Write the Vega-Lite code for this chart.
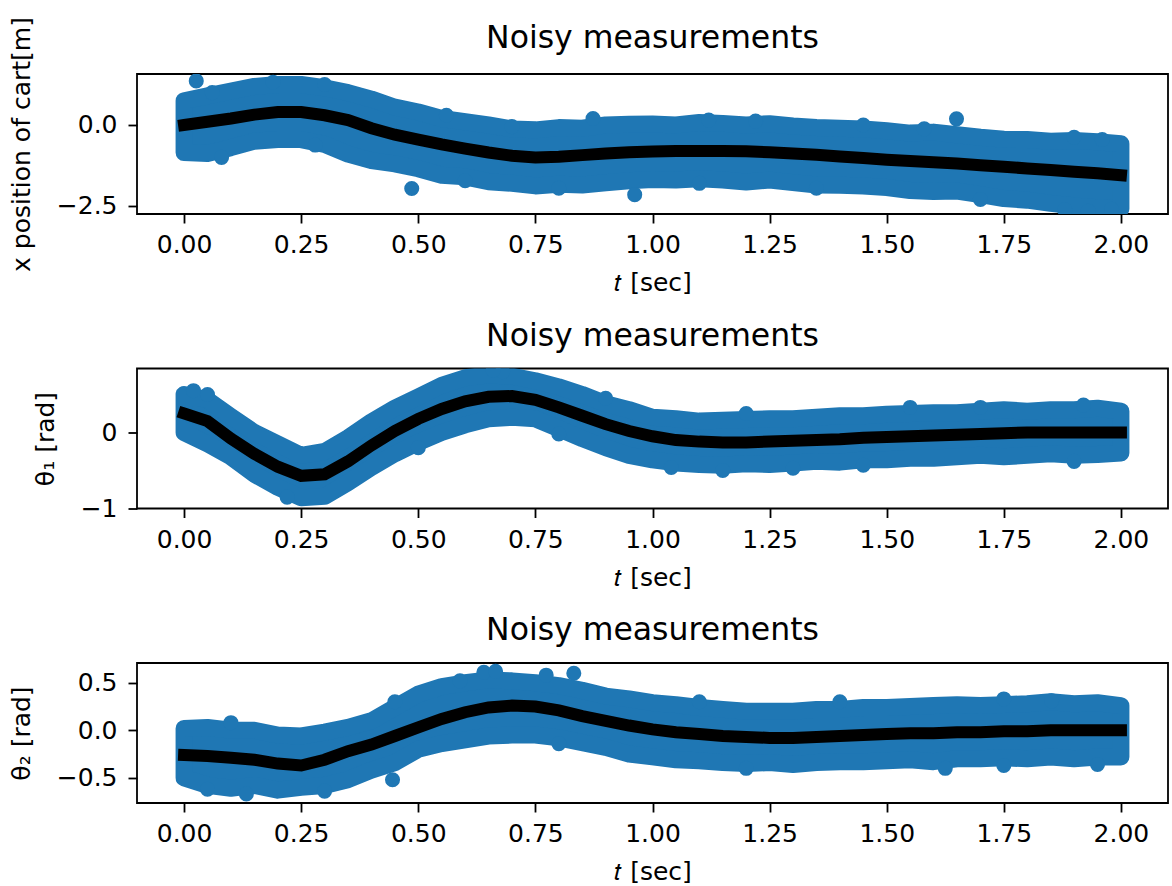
{
  "$schema": "https://vega.github.io/schema/vega-lite/v6.json",
  "padding": {"left": 8, "top": 15, "right": 0, "bottom": 0},
  "background": "white",
  "config": {
    "font": "DejaVu Sans",
    "view": {"stroke": "black", "strokeWidth": 1.8},
    "axis": {
      "grid": false, "domain": false, "tickColor": "black", "tickWidth": 1.8, "tickSize": 9,
      "labelFont": "DejaVu Sans", "labelFontSize": 25, "labelColor": "black",
      "titleFont": "DejaVu Sans", "titleFontSize": 25, "titleFontWeight": "normal", "titleColor": "black"
    },
    "title": {"font": "DejaVu Sans", "fontSize": 31.5, "fontWeight": "normal", "color": "black", "anchor": "middle", "baseline": "alphabetic", "offset": 16.5, "frame": "group"}
  },
  "datasets": {
    "p1": [
      {"t":0.00,"c":0.0,"hi":0.75,"lo":-0.85},{"t":0.05,"c":0.1,"hi":0.9,"lo":-0.88},{"t":0.10,"c":0.2,"hi":1.05,"lo":-0.7},
      {"t":0.15,"c":0.32,"hi":1.19,"lo":-0.5},{"t":0.20,"c":0.4,"hi":1.25,"lo":-0.45},{"t":0.25,"c":0.4,"hi":1.25,"lo":-0.45},
      {"t":0.30,"c":0.3,"hi":1.15,"lo":-0.6},{"t":0.35,"c":0.15,"hi":1.0,"lo":-0.9},{"t":0.40,"c":-0.1,"hi":0.8,"lo":-1.1},
      {"t":0.45,"c":-0.3,"hi":0.55,"lo":-1.2},{"t":0.50,"c":-0.45,"hi":0.4,"lo":-1.35},{"t":0.55,"c":-0.6,"hi":0.2,"lo":-1.55},
      {"t":0.60,"c":-0.73,"hi":0.1,"lo":-1.6},{"t":0.65,"c":-0.85,"hi":0.0,"lo":-1.75},{"t":0.70,"c":-0.95,"hi":-0.12,"lo":-1.8},
      {"t":0.75,"c":-1.0,"hi":-0.15,"lo":-1.88},{"t":0.80,"c":-0.98,"hi":-0.08,"lo":-1.83},{"t":0.85,"c":-0.93,"hi":-0.1,"lo":-1.85},
      {"t":0.90,"c":-0.88,"hi":0.0,"lo":-1.78},{"t":0.95,"c":-0.84,"hi":0.02,"lo":-1.72},{"t":1.00,"c":-0.82,"hi":0.03,"lo":-1.68},
      {"t":1.05,"c":-0.8,"hi":0.0,"lo":-1.7},{"t":1.10,"c":-0.8,"hi":0.08,"lo":-1.66},{"t":1.15,"c":-0.8,"hi":0.05,"lo":-1.7},
      {"t":1.20,"c":-0.81,"hi":0.0,"lo":-1.76},{"t":1.25,"c":-0.84,"hi":0.04,"lo":-1.7},{"t":1.30,"c":-0.88,"hi":-0.03,"lo":-1.78},
      {"t":1.35,"c":-0.92,"hi":-0.08,"lo":-1.85},{"t":1.40,"c":-0.97,"hi":-0.1,"lo":-1.86},{"t":1.45,"c":-1.02,"hi":-0.12,"lo":-1.88},
      {"t":1.50,"c":-1.07,"hi":-0.18,"lo":-1.93},{"t":1.55,"c":-1.11,"hi":-0.25,"lo":-2.02},{"t":1.60,"c":-1.15,"hi":-0.22,"lo":-2.05},
      {"t":1.65,"c":-1.19,"hi":-0.3,"lo":-2.04},{"t":1.70,"c":-1.24,"hi":-0.38,"lo":-2.15},{"t":1.75,"c":-1.29,"hi":-0.44,"lo":-2.27},
      {"t":1.80,"c":-1.34,"hi":-0.45,"lo":-2.32},{"t":1.85,"c":-1.39,"hi":-0.5,"lo":-2.42},{"t":1.90,"c":-1.44,"hi":-0.48,"lo":-2.5},
      {"t":1.95,"c":-1.49,"hi":-0.52,"lo":-2.55},{"t":2.00,"c":-1.55,"hi":-0.58,"lo":-2.58}
    ],
    "o1": [
      {"t":0.026,"v":1.36},{"t":0.486,"v":-1.96},{"t":0.873,"v":0.2},{"t":0.962,"v":-2.15},{"t":1.649,"v":0.19},
      {"t":1.88,"v":-2.62},{"t":1.93,"v":-2.66},{"t":1.98,"v":-2.6},
      {"t":0.06,"v":1.0},{"t":0.19,"v":1.32},{"t":0.3,"v":1.25},{"t":0.56,"v":0.3},{"t":0.7,"v":-0.05},{"t":1.12,"v":0.15},
      {"t":1.22,"v":0.12},{"t":1.45,"v":0.0},{"t":1.58,"v":-0.12},{"t":1.9,"v":-0.38},{"t":1.96,"v":-0.45},
      {"t":0.08,"v":-1.0},{"t":0.28,"v":-0.62},{"t":0.6,"v":-1.72},{"t":0.8,"v":-1.95},{"t":1.1,"v":-1.8},{"t":1.35,"v":-1.95},{"t":1.7,"v":-2.3}
    ],
    "p2": [
      {"t":0.00,"c":0.25,"hi":0.5,"lo":0.0},{"t":0.05,"c":0.15,"hi":0.43,"lo":-0.15},{"t":0.10,"c":-0.08,"hi":0.21,"lo":-0.32},
      {"t":0.15,"c":-0.28,"hi":0.0,"lo":-0.55},{"t":0.20,"c":-0.45,"hi":-0.15,"lo":-0.72},{"t":0.25,"c":-0.57,"hi":-0.3,"lo":-0.86},
      {"t":0.30,"c":-0.55,"hi":-0.25,"lo":-0.84},{"t":0.35,"c":-0.38,"hi":-0.07,"lo":-0.66},{"t":0.40,"c":-0.17,"hi":0.14,"lo":-0.46},
      {"t":0.45,"c":0.02,"hi":0.32,"lo":-0.28},{"t":0.50,"c":0.18,"hi":0.47,"lo":-0.13},{"t":0.55,"c":0.31,"hi":0.62,"lo":0.0},
      {"t":0.60,"c":0.41,"hi":0.72,"lo":0.1},{"t":0.65,"c":0.47,"hi":0.76,"lo":0.18},{"t":0.70,"c":0.48,"hi":0.74,"lo":0.2},
      {"t":0.75,"c":0.43,"hi":0.68,"lo":0.18},{"t":0.80,"c":0.33,"hi":0.6,"lo":0.05},{"t":0.85,"c":0.22,"hi":0.5,"lo":-0.08},
      {"t":0.90,"c":0.11,"hi":0.38,"lo":-0.2},{"t":0.95,"c":0.02,"hi":0.3,"lo":-0.3},{"t":1.00,"c":-0.05,"hi":0.2,"lo":-0.36},
      {"t":1.05,"c":-0.1,"hi":0.18,"lo":-0.4},{"t":1.10,"c":-0.12,"hi":0.15,"lo":-0.42},{"t":1.15,"c":-0.13,"hi":0.16,"lo":-0.43},
      {"t":1.20,"c":-0.13,"hi":0.17,"lo":-0.41},{"t":1.25,"c":-0.12,"hi":0.18,"lo":-0.42},{"t":1.30,"c":-0.11,"hi":0.18,"lo":-0.4},
      {"t":1.35,"c":-0.1,"hi":0.2,"lo":-0.38},{"t":1.40,"c":-0.09,"hi":0.22,"lo":-0.39},{"t":1.45,"c":-0.07,"hi":0.22,"lo":-0.36},
      {"t":1.50,"c":-0.06,"hi":0.24,"lo":-0.36},{"t":1.55,"c":-0.05,"hi":0.25,"lo":-0.34},{"t":1.60,"c":-0.04,"hi":0.26,"lo":-0.34},
      {"t":1.65,"c":-0.03,"hi":0.26,"lo":-0.32},{"t":1.70,"c":-0.02,"hi":0.28,"lo":-0.3},{"t":1.75,"c":-0.01,"hi":0.3,"lo":-0.32},
      {"t":1.80,"c":0.0,"hi":0.28,"lo":-0.3},{"t":1.85,"c":0.0,"hi":0.3,"lo":-0.28},{"t":1.90,"c":0.0,"hi":0.3,"lo":-0.3},
      {"t":1.95,"c":0.0,"hi":0.32,"lo":-0.29},{"t":2.00,"c":0.0,"hi":0.28,"lo":-0.27}
    ],
    "o2": [
      {"t":0.02,"v":0.55},{"t":1.04,"v":-0.46},{"t":1.45,"v":-0.43},{"t":1.55,"v":0.33},{"t":0.68,"v":0.8},
      {"t":0.05,"v":0.5},{"t":0.66,"v":0.82},{"t":0.9,"v":0.45},{"t":1.2,"v":0.25},{"t":1.7,"v":0.33},{"t":1.92,"v":0.36},
      {"t":0.22,"v":-0.85},{"t":0.5,"v":-0.2},{"t":0.8,"v":-0.02},{"t":1.15,"v":-0.5},{"t":1.3,"v":-0.47},{"t":1.9,"v":-0.38}
    ],
    "p3": [
      {"t":0.00,"c":-0.26,"hi":0.02,"lo":-0.5},{"t":0.05,"c":-0.27,"hi":0.03,"lo":-0.58},{"t":0.10,"c":-0.29,"hi":0.0,"lo":-0.61},
      {"t":0.15,"c":-0.31,"hi":0.0,"lo":-0.58},{"t":0.20,"c":-0.35,"hi":-0.05,"lo":-0.63},{"t":0.25,"c":-0.37,"hi":-0.06,"lo":-0.6},
      {"t":0.30,"c":-0.31,"hi":-0.02,"lo":-0.58},{"t":0.35,"c":-0.22,"hi":0.03,"lo":-0.52},{"t":0.40,"c":-0.15,"hi":0.1,"lo":-0.42},
      {"t":0.45,"c":-0.06,"hi":0.24,"lo":-0.34},{"t":0.50,"c":0.03,"hi":0.38,"lo":-0.2},{"t":0.55,"c":0.12,"hi":0.46,"lo":-0.14},
      {"t":0.60,"c":0.19,"hi":0.5,"lo":-0.1},{"t":0.65,"c":0.24,"hi":0.53,"lo":-0.06},{"t":0.70,"c":0.26,"hi":0.52,"lo":-0.05},
      {"t":0.75,"c":0.25,"hi":0.5,"lo":-0.05},{"t":0.80,"c":0.21,"hi":0.47,"lo":-0.08},{"t":0.85,"c":0.15,"hi":0.42,"lo":-0.13},
      {"t":0.90,"c":0.1,"hi":0.36,"lo":-0.18},{"t":0.95,"c":0.05,"hi":0.33,"lo":-0.25},{"t":1.00,"c":0.01,"hi":0.29,"lo":-0.28},
      {"t":1.05,"c":-0.02,"hi":0.27,"lo":-0.31},{"t":1.10,"c":-0.04,"hi":0.24,"lo":-0.32},{"t":1.15,"c":-0.06,"hi":0.22,"lo":-0.34},
      {"t":1.20,"c":-0.07,"hi":0.2,"lo":-0.35},{"t":1.25,"c":-0.08,"hi":0.2,"lo":-0.34},{"t":1.30,"c":-0.08,"hi":0.2,"lo":-0.36},
      {"t":1.35,"c":-0.07,"hi":0.22,"lo":-0.34},{"t":1.40,"c":-0.06,"hi":0.22,"lo":-0.33},{"t":1.45,"c":-0.05,"hi":0.24,"lo":-0.33},
      {"t":1.50,"c":-0.04,"hi":0.24,"lo":-0.32},{"t":1.55,"c":-0.03,"hi":0.25,"lo":-0.31},{"t":1.60,"c":-0.03,"hi":0.26,"lo":-0.33},
      {"t":1.65,"c":-0.02,"hi":0.27,"lo":-0.3},{"t":1.70,"c":-0.02,"hi":0.26,"lo":-0.3},{"t":1.75,"c":-0.01,"hi":0.27,"lo":-0.29},
      {"t":1.80,"c":-0.01,"hi":0.28,"lo":-0.3},{"t":1.85,"c":0.0,"hi":0.3,"lo":-0.28},{"t":1.90,"c":0.0,"hi":0.28,"lo":-0.3},
      {"t":1.95,"c":0.0,"hi":0.29,"lo":-0.28},{"t":2.00,"c":0.0,"hi":0.26,"lo":-0.28}
    ],
    "o3": [
      {"t":0.133,"v":-0.67},{"t":0.445,"v":-0.52},{"t":0.589,"v":0.52},{"t":0.64,"v":0.61},{"t":0.665,"v":0.62},
      {"t":0.773,"v":0.58},{"t":0.832,"v":0.6},{"t":1.625,"v":-0.4},{"t":1.852,"v":0.31},
      {"t":0.1,"v":0.08},{"t":0.45,"v":0.3},{"t":1.1,"v":0.3},{"t":1.4,"v":0.3},{"t":1.75,"v":0.33},
      {"t":0.05,"v":-0.62},{"t":0.3,"v":-0.64},{"t":0.8,"v":-0.14},{"t":1.2,"v":-0.4},{"t":1.75,"v":-0.37},{"t":1.95,"v":-0.36}
    ]
  },
  "vconcat": [
    {
      "width": 1031, "height": 140,
      "title": {"text": "Noisy measurements", "dy": 54},
      "layer": [
        {"data": {"name": "p1"}, "mark": {"type": "area", "fill": "#1f77b4", "stroke": "#1f77b4", "strokeWidth": 17, "strokeJoin": "round", "clip": true},
         "encoding": {
           "x": {"field": "t", "type": "quantitative", "scale": {"domain": [-0.1005, 2.1005], "nice": false, "zero": false},
                 "axis": {"values": [0,0.25,0.5,0.75,1,1.25,1.5,1.75,2], "format": ".2f", "title": "𝑡 [sec]", "labelPadding": 9.5, "titlePadding": 13}},
           "y": {"field": "lo", "type": "quantitative", "scale": {"domain": [-2.747, 1.574], "nice": false, "zero": false},
                 "axis": {"values": [-2.5, 0], "format": ".1f", "title": "x position of cart[m]", "labelPadding": 11, "titlePadding": 22}},
           "y2": {"field": "hi"}
         }},
        {"data": {"name": "o1"}, "mark": {"type": "point", "shape": "circle", "filled": true, "size": 227, "color": "#1f77b4", "opacity": 1, "clip": true},
         "encoding": {"x": {"field": "t", "type": "quantitative"}, "y": {"field": "v", "type": "quantitative"}}},
        {"data": {"name": "p1"}, "mark": {"type": "line", "color": "black", "strokeWidth": 12, "strokeCap": "square", "clip": true},
         "encoding": {"x": {"field": "t", "type": "quantitative"}, "y": {"field": "c", "type": "quantitative"}}}
      ]
    },
    {
      "width": 1031, "height": 140,
      "title": "Noisy measurements",
      "layer": [
        {"data": {"name": "p2"}, "mark": {"type": "area", "fill": "#1f77b4", "stroke": "#1f77b4", "strokeWidth": 17, "strokeJoin": "round", "clip": true},
         "encoding": {
           "x": {"field": "t", "type": "quantitative", "scale": {"domain": [-0.1005, 2.1005], "nice": false, "zero": false},
                 "axis": {"values": [0,0.25,0.5,0.75,1,1.25,1.5,1.75,2], "format": ".2f", "title": "𝑡 [sec]", "labelPadding": 9.5, "titlePadding": 13}},
           "y": {"field": "lo", "type": "quantitative", "scale": {"domain": [-1.0, 0.842], "nice": false, "zero": false},
                 "axis": {"values": [-1, 0], "format": "d", "title": "θ₁ [rad]", "labelPadding": 11, "titlePadding": 22}},
           "y2": {"field": "hi"}
         }},
        {"data": {"name": "o2"}, "mark": {"type": "point", "shape": "circle", "filled": true, "size": 227, "color": "#1f77b4", "opacity": 1, "clip": true},
         "encoding": {"x": {"field": "t", "type": "quantitative"}, "y": {"field": "v", "type": "quantitative"}}},
        {"data": {"name": "p2"}, "mark": {"type": "line", "color": "black", "strokeWidth": 12, "strokeCap": "square", "clip": true},
         "encoding": {"x": {"field": "t", "type": "quantitative"}, "y": {"field": "c", "type": "quantitative"}}}
      ]
    },
    {
      "width": 1031, "height": 140,
      "title": "Noisy measurements",
      "layer": [
        {"data": {"name": "p3"}, "mark": {"type": "area", "fill": "#1f77b4", "stroke": "#1f77b4", "strokeWidth": 17, "strokeJoin": "round", "clip": true},
         "encoding": {
           "x": {"field": "t", "type": "quantitative", "scale": {"domain": [-0.1005, 2.1005], "nice": false, "zero": false},
                 "axis": {"values": [0,0.25,0.5,0.75,1,1.25,1.5,1.75,2], "format": ".2f", "title": "𝑡 [sec]", "labelPadding": 9.5, "titlePadding": 13}},
           "y": {"field": "lo", "type": "quantitative", "scale": {"domain": [-0.765, 0.708], "nice": false, "zero": false},
                 "axis": {"values": [-0.5, 0, 0.5], "format": ".1f", "title": "θ₂ [rad]", "labelPadding": 11, "titlePadding": 22}},
           "y2": {"field": "hi"}
         }},
        {"data": {"name": "o3"}, "mark": {"type": "point", "shape": "circle", "filled": true, "size": 227, "color": "#1f77b4", "opacity": 1, "clip": true},
         "encoding": {"x": {"field": "t", "type": "quantitative"}, "y": {"field": "v", "type": "quantitative"}}},
        {"data": {"name": "p3"}, "mark": {"type": "line", "color": "black", "strokeWidth": 12, "strokeCap": "square", "clip": true},
         "encoding": {"x": {"field": "t", "type": "quantitative"}, "y": {"field": "c", "type": "quantitative"}}}
      ]
    }
  ],
  "spacing": 154.5,
  "bounds": "flush"
}
